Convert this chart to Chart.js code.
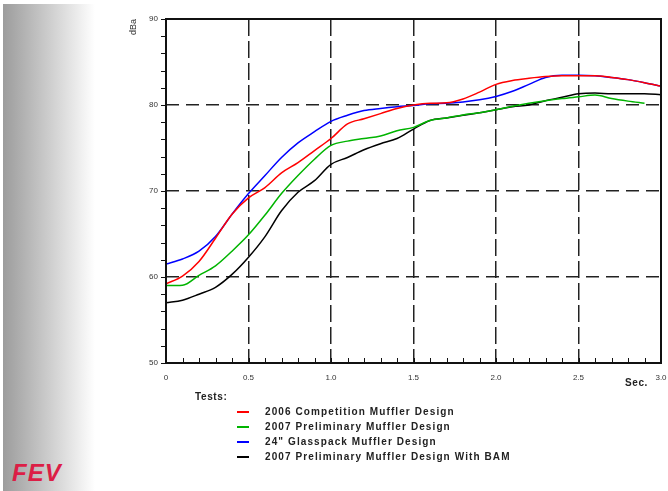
<!DOCTYPE html>
<html>
<head>
<meta charset="utf-8">
<script src="https://cdn.jsdelivr.net/npm/chart.js@4/dist/chart.umd.min.js"></script>
<style>
    body { margin: 0; width: 668px; height: 491px; overflow: hidden; background: #fff; font-family: "Liberation Sans", Arial, sans-serif; position: relative; }
    #shade { position: absolute; left: 3px; top: 4px; width: 92px; height: 487px; background: linear-gradient(to right, #9c9c9c, #c8c8c8 45%, #ffffff); }
    #myChart { position: absolute; left: 0; top: 0; }
    .lbl { position: absolute; font-weight: bold; color: #222; font-size: 10px; letter-spacing: 0.6px; }
    #legend { position: absolute; left: 237px; top: 404px; }
    .row { height: 15px; display: flex; align-items: center; }
    .swatch { width: 12px; height: 2px; margin-right: 16px; }
    .row span { font-weight: bold; font-size: 10px; color: #222; letter-spacing: 1.1px; }
    #logo { position: absolute; left: 12px; top: 459px; font: italic bold 24px "Liberation Sans", Arial, sans-serif; color: #dc1e46; letter-spacing: 1px; }
</style>
</head>
<body>
<div id="shade"></div>
<canvas id="myChart" width="668" height="400"></canvas>
<div class="lbl" style="left:625px; top:377px;">Sec.</div>
<div class="lbl" style="left:195px; top:391px;">Tests:</div>
<div id="legend"></div>
<div id="logo">FEV</div>
<script>
// tiempos en segundos (cada 0.1 s)
const times = [0, 0.1, 0.2, 0.3, 0.4, 0.5, 0.6, 0.7, 0.8, 0.9, 1.0, 1.1, 1.2, 1.3, 1.4, 1.5,
    1.6, 1.7, 1.8, 1.9, 2.0, 2.1, 2.2, 2.3, 2.4, 2.5, 2.6, 2.7, 2.8, 2.9, 3.0];

const competition2006 = [59.2, 60.1, 61.8, 64.5, 67.3, 69.2, 70.4, 72.1, 73.3, 74.7, 76.1, 77.8, 78.4, 79.0, 79.6, 80.0,
    80.2, 80.25, 80.7, 81.5, 82.4, 82.85, 83.1, 83.3, 83.4, 83.4, 83.4, 83.2, 82.95, 82.6, 82.2];
const preliminary2007 = [59.0, 59.05, 60.2, 61.3, 63.0, 64.9, 67.2, 69.7, 71.8, 73.7, 75.3, 75.8, 76.1, 76.4, 77.0, 77.4,
    78.2, 78.5, 78.85, 79.1, 79.45, 79.85, 80.2, 80.5, 80.75, 80.95, 81.15, 80.75, 80.45, 80.2, null];
const glasspack24 = [61.5, 62.1, 63.0, 64.7, 67.3, 69.7, 71.8, 73.9, 75.6, 76.9, 78.1, 78.8, 79.35, 79.6, 79.8, 79.95,
    80.15, 80.2, 80.35, 80.6, 81.0, 81.6, 82.4, 83.2, 83.45, 83.45, 83.4, 83.2, 82.95, 82.6, 82.2];
const preliminaryBAM = [57.0, 57.3, 58.0, 58.8, 60.3, 62.3, 64.7, 67.7, 69.85, 71.2, 73.1, 73.9, 74.8, 75.5, 76.1, 77.2,
    78.2, 78.5, 78.8, 79.1, 79.45, 79.8, 80.0, 80.5, 80.9, 81.3, 81.4, 81.3, 81.3, 81.3, 81.2];

const seriesNames = ['2006 Competition Muffler Design', '2007 Preliminary Muffler Design',
    '24" Glasspack Muffler Design', '2007 Preliminary Muffler Design With BAM'];
const seriesColors = ['#ff0000', '#00b400', '#0000ff', '#000000'];
const seriesValues = [competition2006, preliminary2007, glasspack24, preliminaryBAM];

const yTicks = [50, 60, 70, 80, 90];
const xTicks = [0, 0.5, 1.0, 1.5, 2.0, 2.5, 3.0];

// leyenda en HTML
const legend = document.getElementById('legend');
seriesNames.forEach((name, i) => {
    const row = document.createElement('div');
    row.className = 'row';
    const sw = document.createElement('div');
    sw.className = 'swatch';
    sw.style.background = seriesColors[i];
    const txt = document.createElement('span');
    txt.textContent = name;
    row.appendChild(sw);
    row.appendChild(txt);
    legend.appendChild(row);
});

// marco y marcas menores
const framePlugin = {
    id: 'frame',
    afterDraw(chart) {
        const { ctx, chartArea: a, scales } = chart;
        ctx.save();
        ctx.strokeStyle = '#111';
        ctx.lineWidth = 1;
        ctx.beginPath();
        for (let v = 50; v <= 90; v += 2) {
            const py = Math.round(scales.y.getPixelForValue(v)) + 0.5;
            ctx.moveTo(a.left - 5, py);
            ctx.lineTo(a.left, py);
        }
        for (let k = 0; k <= 30; k++) {
            const px = Math.round(scales.x.getPixelForValue(k / 10)) + 0.5;
            ctx.moveTo(px, a.bottom);
            ctx.lineTo(px, a.bottom - 5);
        }
        ctx.stroke();
        ctx.lineWidth = 2;
        ctx.strokeStyle = '#111';
        ctx.strokeRect(a.left, a.top, a.right - a.left, a.bottom - a.top);
        ctx.restore();
    }
};

const ctx = document.getElementById('myChart').getContext('2d');
const myChart = new Chart(ctx, {
    type: 'line',
    data: {
        datasets: seriesValues.map((vals, i) => ({
            label: seriesNames[i],
            data: times.map((t, j) => ({ x: t, y: vals[j] })),
            borderColor: seriesColors[i],
            borderWidth: 1.5,
            pointRadius: 0,
            cubicInterpolationMode: 'monotone',
            fill: false
        }))
    },
    options: {
        responsive: false,
        animation: false,
        layout: { padding: { left: 124, top: 19, right: 7, bottom: 0 } },
        plugins: { legend: { display: false }, tooltip: { enabled: false } },
        scales: {
            x: {
                type: 'linear',
                min: 0,
                max: 3,
                afterBuildTicks: s => { s.ticks = xTicks.map(v => ({ value: v })); },
                afterFit: s => { s.height = 37; s.paddingLeft = 0; s.paddingRight = 0; },
                ticks: {
                    padding: 10,
                    color: '#333',
                    font: { size: 8, family: 'Liberation Sans' },
                    callback: v => v === 0 ? '0' : v.toFixed(1)
                },
                grid: {
                    drawTicks: false,
                    lineWidth: 1.5,
                    color: c => (c.tick && c.tick.value > 0 && c.tick.value < 3) ? '#222' : 'rgba(0,0,0,0)'
                },
                border: { display: false, dash: [17, 5] }
            },
            y: {
                min: 50,
                max: 90,
                afterBuildTicks: s => { s.ticks = yTicks.map(v => ({ value: v })); },
                afterFit: s => { s.width = 42; s.paddingTop = 0; s.paddingBottom = 0; },
                ticks: {
                    padding: 8,
                    color: '#333',
                    font: { size: 8, family: 'Liberation Sans' }
                },
                title: {
                    display: true,
                    text: 'dBa',
                    align: 'end',
                    color: '#333',
                    font: { size: 9, family: 'Liberation Sans' }
                },
                grid: {
                    drawTicks: false,
                    lineWidth: 1.5,
                    color: c => (c.tick && c.tick.value > 50 && c.tick.value < 90) ? '#222' : 'rgba(0,0,0,0)'
                },
                border: { display: false, dash: [13, 7] }
            }
        }
    },
    plugins: [framePlugin]
});
</script>
</body>
</html>
